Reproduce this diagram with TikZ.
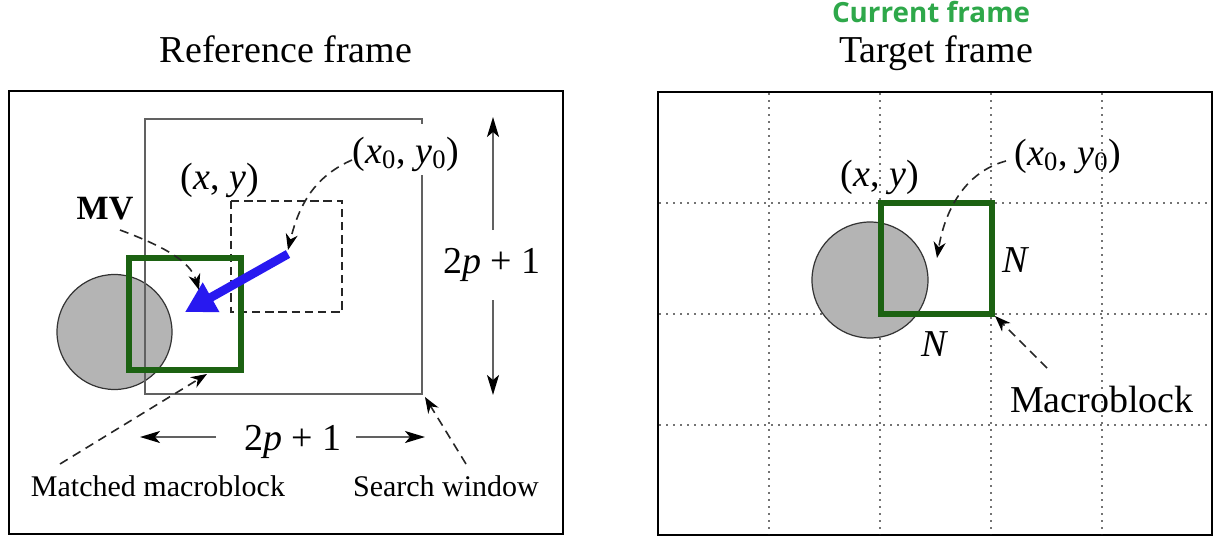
\documentclass[tikz,border=0pt]{standalone}
\usepackage{fontspec}
\setmainfont{Liberation Serif}
\newfontfamily\titlesans{Open Sans}
\usetikzlibrary{arrows.meta}
\definecolor{mbgreen}{RGB}{28,98,18}
\definecolor{titlegreen}{RGB}{46,168,74}
\definecolor{mvblue}{RGB}{40,25,240}
\definecolor{blobgray}{RGB}{180,180,180}
\begin{document}
\begin{tikzpicture}[x=0.5pt,y=-0.5pt,
  lbl/.style={inner sep=0pt, anchor=base, font=\fontsize{19}{22}\selectfont},
  smalllbl/.style={inner sep=0pt, anchor=base, font=\fontsize{15}{18}\selectfont},
  frameline/.style={draw=black, line width=1.3pt},
  winline/.style={draw=black!62, line width=1pt},
  mbsquare/.style={draw=mbgreen, line width=2.6pt},
  blob/.style={circle, draw=black!80, fill=blobgray, line width=0.6pt, inner sep=0pt, minimum size=#1},
  prevbox/.style={draw=black!85, line width=0.9pt, dash pattern=on 4.2pt off 2.4pt},
  pointer/.style={draw=black!85, line width=0.8pt, dash pattern=on 4.5pt off 3pt,
    -{Stealth[length=8pt,width=6pt,inset=2.5pt,black]}},
  dimarrow/.style={draw=black!62, line width=1pt,
    -{Stealth[length=10pt,width=6pt,inset=2.5pt,black]}},
  gridline/.style={draw=black!55, line width=0.6pt, dash pattern=on 0.8pt off 2.7pt},
  mvarrow/.style={draw=mvblue, line width=4.4pt, -{Triangle[length=15pt,width=16pt,mvblue]}}
]
\useasboundingbox (0,0) rectangle (1228,546);

% ---------- Titles ----------
\node[lbl] (reftitle) at (286,62) {Reference frame};
\node[lbl] (tgttitle) at (936,62) {Target frame};
\node[inner sep=0pt, anchor=base, text=titlegreen,
      font=\titlesans\bfseries\fontsize{13.9}{16}\selectfont] (curtitle) at (931,22) {Current frame};

% ---------- Left panel: reference frame ----------
\draw[frameline] (9,91) rectangle (563,534);
\node[blob=57.5pt] (blobL) at (114.5,332) {};
\draw[winline] (422,175) -- (422,394) -- (145,394) -- (145,119) -- (422,119) -- (422,124);
\draw[prevbox] (231,201) rectangle (342,312);
\draw[mbsquare] (129,258) rectangle (241,370);

\coordinate (mvstart) at (288,254);
\coordinate (mvend) at (185,312);
\draw[mvarrow] (mvstart) -- (mvend);

\node[lbl] (xyL) at (220,189) {(\textit{x}, \textit{y})};
\node[lbl] (x0L) at (406,163) {(\textit{x}\textsubscript{0}, \textit{y}\textsubscript{0})};
\node[inner sep=0pt, anchor=base, font=\bfseries\fontsize{17}{20}\selectfont] (mvlbl) at (105,219) {MV};
\node[lbl] (h2p) at (293,450) {2\textit{p} + 1};
\node[lbl] (v2p) at (492,273) {2\textit{p} + 1};
\node[smalllbl] (matchlbl) at (158,496) {Matched macroblock};
\node[smalllbl] (searchlbl) at (446,496) {Search window};

\coordinate (x0Ls) at (352,160);
\coordinate (x0Lt) at (288,250);
\draw[pointer] (x0Ls) .. controls (318,175) and (300,200) .. (x0Lt);

\coordinate (mvlbls) at (120,230);
\coordinate (mvlblt) at (199,290);
\draw[pointer] (mvlbls) .. controls (160,245) and (190,260) .. (mvlblt);

\coordinate (matchs) at (60,464);
\coordinate (matcht) at (207,374);
\draw[pointer] (matchs) -- (matcht);

\coordinate (searchs) at (466,464);
\coordinate (searcht) at (425,397);
\draw[pointer] (searchs) -- (searcht);

\coordinate (hLs) at (216,437);
\coordinate (hLt) at (140,437);
\coordinate (hRs) at (356,437);
\coordinate (hRt) at (425,437);
\draw[dimarrow] (hLs) -- (hLt);
\draw[dimarrow] (hRs) -- (hRt);

\coordinate (vUs) at (493,230);
\coordinate (vUt) at (493,117);
\coordinate (vDs) at (493,300);
\coordinate (vDt) at (493,395);
\draw[dimarrow] (vUs) -- (vUt);
\draw[dimarrow] (vDs) -- (vDt);

% ---------- Right panel: target frame ----------
\draw[frameline] (658,92) rectangle (1212,535);
\foreach \gx in {769,880,991,1102} {
  \draw[gridline] (\gx,93) -- (\gx,534);
}
\foreach \gy in {203,314,425} {
  \draw[gridline] (659,\gy) -- (1211,\gy);
}
\node[blob=58pt] (blobR) at (870,280) {};
\draw[mbsquare] (881,203) rectangle (992,314);

\node[lbl] (xyR) at (880,186) {(\textit{x}, \textit{y})};
\node[lbl] (x0R) at (1068,165) {(\textit{x}\textsubscript{0}, \textit{y}\textsubscript{0})};
\node[lbl] (nright) at (1016,272) {\textit{N}};
\node[lbl] (nbottom) at (935,356) {\textit{N}};
\node[lbl] (mblbl) at (1102,412) {Macroblock};

\coordinate (x0Rs) at (1006,161);
\coordinate (x0Rt) at (937,258);
\draw[pointer] (x0Rs) .. controls (965,172) and (945,210) .. (x0Rt);

\coordinate (mbs) at (1047,368);
\coordinate (mbt) at (995,316);
\draw[pointer] (mbs) -- (mbt);
\end{tikzpicture}
\end{document}
